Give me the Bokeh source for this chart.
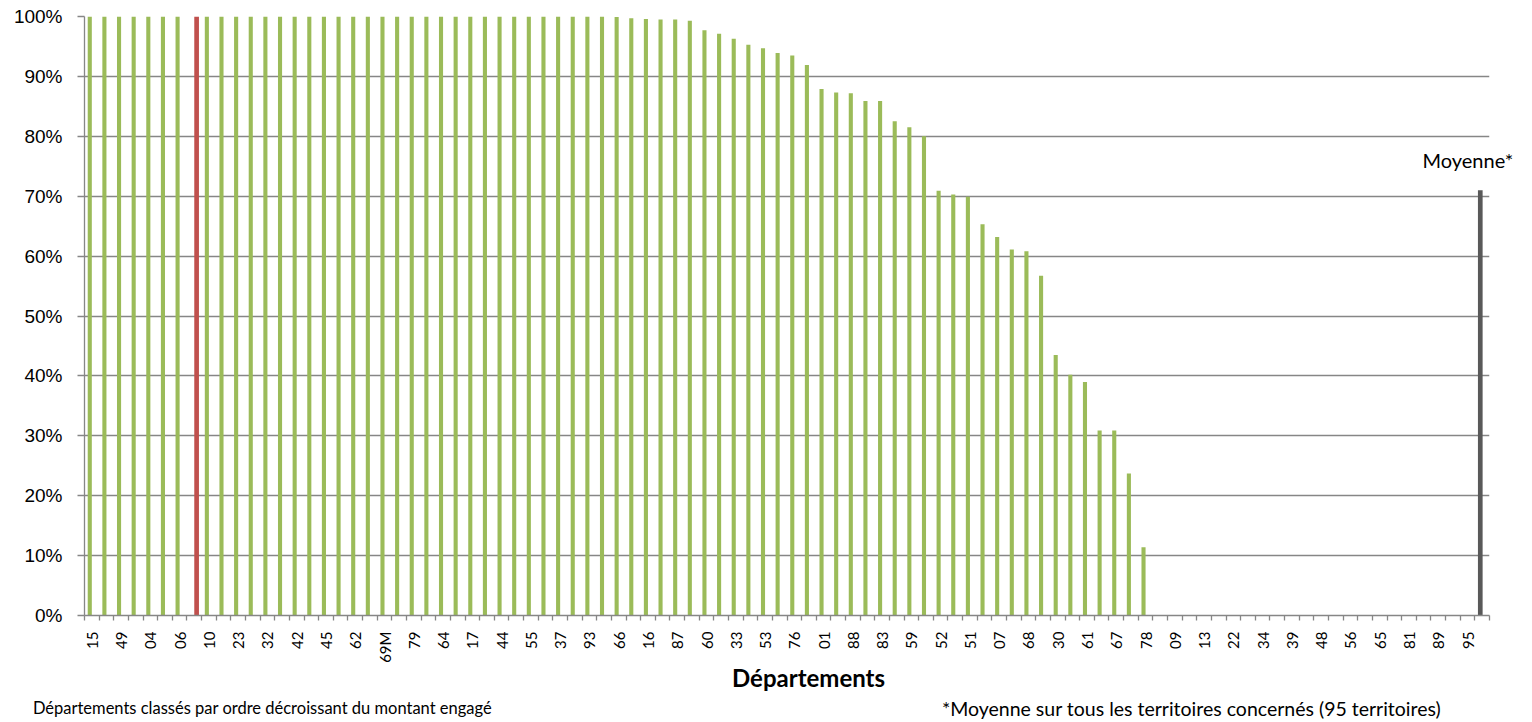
from bokeh.plotting import figure
from bokeh.models import (ColumnDataSource, Range1d, FixedTicker, PrintfTickFormatter, LinearAxis)
from bokeh.transform import dodge
from bokeh.embed import file_html
from bokeh.resources import INLINE
import math

# ---- data ----
# labels shown on the x axis (every other department, in chart order)
shown_labels = ["15", "49", "04", "06", "10", "23", "32", "42", "45", "62",
                "69M", "79", "64", "17", "44", "55", "37", "93", "66", "16",
                "87", "60", "33", "53", "76", "01", "88", "83", "59", "52",
                "51", "07", "68", "30", "61", "67", "78", "09", "13", "22",
                "34", "39", "48", "56", "65", "81", "89", "95"]

# share (%) for each of the 96 positions (95 departments + average slot)
green_values = [100, 100, 100, 100, 100, 100, 100, 0, 100, 100,
                100, 100, 100, 100, 100, 100, 100, 100, 100, 100,
                100, 100, 100, 100, 100, 100, 100, 100, 100, 100,
                100, 100, 100, 100, 100, 100, 99.9, 99.7, 99.6, 99.5,
                99.5, 99.3, 97.7, 97.1, 96.3, 95.3, 94.7, 93.9, 93.5, 91.9,
                87.9, 87.3, 87.2, 85.9, 85.9, 82.5, 81.5, 80.0, 70.9, 70.3,
                69.9, 65.3, 63.2, 61.1, 60.8, 56.7, 43.5, 40.2, 39.0, 30.9,
                30.9, 23.7, 11.4, 0, 0, 0, 0, 0, 0, 0,
                0, 0, 0, 0, 0, 0, 0, 0, 0, 0,
                0, 0, 0, 0, 0, 0]

highlight_positions = [7]
highlight_values = [100]

mean_positions = [95]
mean_values = [71.0]
mean_label = "Moyenne*"

x_title = "Départements"
note_left = "Départements classés par ordre décroissant du montant engagé"
note_right = "*Moyenne sur tous les territoires concernés (95 territoires)"

# ---- styling ----
GREEN = "#9BBB59"
RED = "#C0504D"
DARK = "#595959"
GRID = "#868686"

n = len(green_values)
green_src = ColumnDataSource(dict(x=list(range(n)), v=green_values))
red_src = ColumnDataSource(dict(x=highlight_positions, v=highlight_values))
mean_src = ColumnDataSource(dict(x=mean_positions, v=mean_values))

p = figure(width=1532, height=722, x_range=Range1d(-0.5, n - 0.5), y_range=Range1d(0, 100),
           output_backend="svg", toolbar_location=None,
           min_border_left=84, min_border_right=43, min_border_top=16, min_border_bottom=101)
p.outline_line_color = None
p.background_fill_color = "white"
p.border_fill_color = "white"

p.vbar(x=dodge("x", -0.14), top="v", width=0.28, bottom=0, source=green_src,
       fill_color=GREEN, line_color=None)
p.vbar(x=dodge("x", 0.16), top="v", width=0.32, bottom=0, source=red_src,
       fill_color=RED, line_color=None)
p.vbar(x=dodge("x", -0.13), top="v", width=0.32, bottom=0, source=mean_src,
       fill_color=DARK, line_color=None)

# x axis: department codes
xa = p.xaxis[0]
label_pos = list(range(0, 2 * len(shown_labels), 2))
xa.ticker = FixedTicker(ticks=label_pos, minor_ticks=[i - 0.5 for i in range(n + 1)])
xa.major_label_overrides = {k: lab for k, lab in zip(label_pos, shown_labels)}
xa.major_label_orientation = math.pi / 2
xa.major_tick_line_color = None
xa.major_tick_out = 5
xa.major_tick_in = 0
xa.minor_tick_out = 5
xa.minor_tick_in = 0
xa.minor_tick_line_color = GRID
xa.minor_tick_line_width = 1.3
xa.axis_line_color = GRID
xa.axis_line_width = 1.3
xa.major_label_standoff = 11
xa.major_label_text_font = "Lato"
xa.major_label_text_font_size = "15px"
xa.major_label_text_color = "#000000"


def text_axis(pos, text, size, style="normal", standoff=0):
    ax = LinearAxis(ticker=FixedTicker(ticks=[pos], minor_ticks=[]))
    ax.major_label_overrides = {pos: text}
    ax.axis_line_color = None
    ax.major_tick_line_color = None
    ax.minor_tick_line_color = None
    ax.major_tick_out = 0
    ax.major_tick_in = 0
    ax.major_label_standoff = standoff
    ax.major_label_text_font = "Lato"
    ax.major_label_text_font_size = size
    ax.major_label_text_font_style = style
    ax.major_label_text_color = "#000000"
    return ax


# axis title and notes, positioned in data units along x
p.add_layout(text_axis(48.97, x_title, "24px", "bold", -3), "below")
p.add_layout(text_axis(11.66, note_left, "16.5px", "normal", 3), "below")
p.add_layout(text_axis(75.14, note_right, "19.5px", "normal", -24), "below")

# y axis
ya = p.yaxis[0]
ya.ticker = FixedTicker(ticks=list(range(0, 101, 10)))
ya.formatter = PrintfTickFormatter(format="%d%%")
ya.major_tick_out = 7
ya.major_tick_in = 0
ya.minor_tick_line_color = None
ya.major_tick_line_color = GRID
ya.major_tick_line_width = 1.3
ya.axis_line_color = GRID
ya.axis_line_width = 1.3
ya.major_label_standoff = 15
ya.major_label_text_font = "Liberation Sans"
ya.major_label_text_font_size = "19px"
ya.major_label_text_color = "#000000"

# "Moyenne*" label above the average bar, via a right-side axis
mean_label_y = round(mean_values[0] + 5)
ra = LinearAxis(ticker=FixedTicker(ticks=[mean_label_y], minor_ticks=[]))
ra.major_label_overrides = {mean_label_y: mean_label}
ra.axis_line_color = None
ra.major_tick_line_color = None
ra.minor_tick_line_color = None
ra.major_tick_out = 0
ra.major_tick_in = 0
ra.major_label_standoff = -67
ra.major_label_text_font = "Lato"
ra.major_label_text_font_size = "20px"
ra.major_label_text_color = "#000000"
p.add_layout(ra, "right")

p.xgrid.grid_line_color = None
p.ygrid.grid_line_color = GRID
p.ygrid.grid_line_width = 1.3

open("out.html", "w").write(file_html(p, INLINE))
